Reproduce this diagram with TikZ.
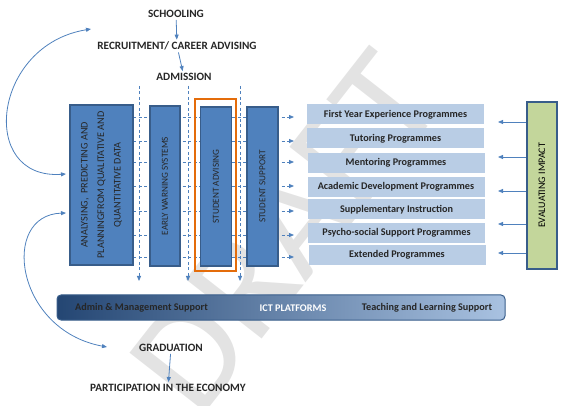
\documentclass[tikz,border=0pt]{standalone}
\usepackage{fontspec}
\setmainfont{Carlito}
\usetikzlibrary{arrows.meta}
\definecolor{boxblue}{HTML}{4F81BD}
\definecolor{boxedge}{HTML}{385D8A}
\definecolor{progblue}{HTML}{B9CDE5}
\definecolor{evalgreen}{HTML}{C3D69B}
\definecolor{advorange}{HTML}{E46C0A}
\definecolor{bardark}{HTML}{244673}
\definecolor{barlight}{HTML}{A9C2E1}
\definecolor{txtdark}{HTML}{262626}
\newcommand{\stagefont}{\fontsize{11.2}{13}\selectfont\bfseries}

\begin{document}
\begin{tikzpicture}[x=1pt,y=-1pt]
                        \tikzstyle{stage}=[text=txtdark, font=\stagefont, inner sep=2pt]
                        \tikzstyle{colbox}=[draw=boxedge, fill=boxblue, line width=1.6pt, rotate=90, minimum height=30pt, text=txtdark, font=\fontsize{9.2}{11}\selectfont, align=center]
                        \tikzstyle{prog}=[fill=progblue, minimum width=177pt, minimum height=20pt, text=txtdark, font=\fontsize{10.2}{12}\selectfont\bfseries]
                        \tikzstyle{bartext}=[text=txtdark, font=\fontsize{10.2}{12}\selectfont\bfseries]
                        \tikzstyle{flow}=[draw=boxblue, line width=0.8pt, -{Triangle[length=5pt,width=4pt]}]
                        \tikzstyle{dashflow}=[draw=boxblue, line width=0.8pt, dash pattern=on 3pt off 2.5pt, -{Triangle[length=5pt,width=4pt]}]
                        \tikzstyle{loopflow}=[draw=boxblue, line width=0.8pt, {Triangle[length=5pt,width=4pt]}-{Triangle[length=5pt,width=4pt]}]
                        \useasboundingbox (0,0) rectangle (584,406);
                        \node[rotate=52, text=gray!22, font=\fontsize{150}{150}\selectfont] (draft) at (285,232) {DRAFT};
                        \node[stage] (school) at (176,14) {SCHOOLING};
                        \node[stage] (recruit) at (177,46) {RECRUITMENT/ CAREER ADVISING};
                        \node[stage] (admit) at (184,77) {ADMISSION};
                        \draw[flow] (school) -- (recruit);
                        \draw[flow] (recruit) -- (admit);
                        \foreach \y in {117,141,162,186,211,235,257}
                            \draw[dashflow] (133,\y) -- (294,\y);
                        \foreach \x in {139,188,240}
                            \draw[dashflow] (\x,86) -- (\x,281);
                        \node[colbox, minimum width=160pt, minimum height=63pt, font=\fontsize{10.2}{16.5}\selectfont] (analyse) at (101.5,185) {ANALYSING,\ \ PREDICTING AND\\PLANNINGFROM QUALITATIVE AND\\QUANTITATIVE DATA};
                        \node[colbox, minimum width=160pt] (warning) at (165,186) {EARLY WARNING SYSTEMS};
                        \node[colbox, minimum width=159pt, minimum height=31pt] (advise) at (216,186.5) {STUDENT ADVISING};
                        \node[colbox, minimum width=159pt, minimum height=31pt] (support) at (262.5,186.5) {STUDENT SUPPORT};
                        \node[draw=advorange, line width=2.2pt, minimum width=41pt, minimum height=172pt] (advframe) at (215.5,185) {};
                        \node[prog] (fye) at (395.5,114.5) {First Year Experience Programmes};
                        \node[prog] (tutor) at (395.5,138.5) {Tutoring Programmes};
                        \node[prog] (mentor) at (396,163) {Mentoring Programmes};
                        \node[prog] (acad) at (396,187) {Academic Development Programmes};
                        \node[prog] (suppl) at (396.5,209.5) {Supplementary Instruction};
                        \node[prog] (psycho) at (396.5,233) {Psycho-social Support Programmes};
                        \node[prog] (extend) at (397,255) {Extended Programmes};
                        \node[draw=boxedge, fill=evalgreen, line width=2.2pt, rotate=90, minimum width=167pt, minimum height=30pt, text=black, font=\fontsize{10}{12}\selectfont] (evaluate) at (542,185.5) {EVALUATING IMPACT};
                        \foreach \y in {122,157,191,224,253}
                            \draw[flow] (evaluate.north |- 0,\y) -- (498,\y);
                        \node[draw=boxedge, line width=1pt, rounded corners=4pt, left color=bardark, right color=barlight, minimum width=448pt, minimum height=25pt] (platform) at (281,307.5) {};
                        \node[bartext] (admin) at (141.5,308) {Admin \& Management Support};
                        \node[bartext, text=white] (ict) at (293,308) {ICT PLATFORMS};
                        \node[bartext] (teach) at (427,308) {Teaching and Learning Support};
                        \node[stage] (grad) at (171,348) {GRADUATION};
                        \node[stage] (econ) at (168,388) {PARTICIPATION IN THE ECONOMY};
                        \draw[flow] (grad) -- (econ);
                        \coordinate (toptip) at (91,29);
                        \coordinate (midtip) at (66,174);
                        \coordinate (lowtip) at (66,213);
                        \coordinate (gradtip) at (107,347);
                        \draw[loopflow] (midtip) .. controls (-22,180) and (-8,45) .. (toptip);
                        \draw[loopflow] (lowtip) .. controls (0,215) and (15,330) .. (gradtip);
                    \end{tikzpicture}
\end{document}
